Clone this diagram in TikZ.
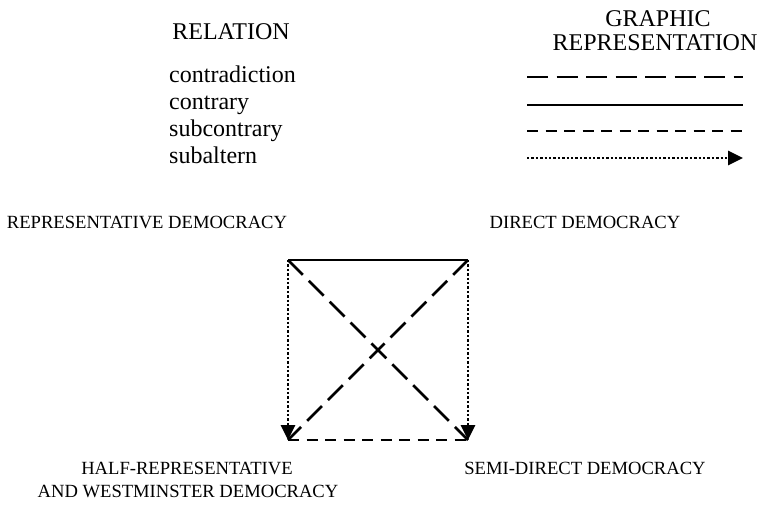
\documentclass[tikz,border=0pt]{standalone}
\usepackage{fontspec}
\setmainfont{Liberation Serif}
\usetikzlibrary{arrows.meta}
\begin{document}
\begin{tikzpicture}[x=1pt,y=-1pt,
  big/.style={font=\fontsize{24}{26}\selectfont, inner sep=0pt, anchor=base},
  lab/.style={font=\fontsize{18.6}{23}\selectfont, inner sep=0pt, anchor=base, align=center},
  item/.style={font=\fontsize{24}{26}\selectfont, inner sep=0pt, anchor=base west},
  contradict/.style={line width=2.7pt, dash pattern=on 21pt off 8.5pt},
  contrarystyle/.style={line width=2.8pt},
  subcontr/.style={line width=2.7pt, dash pattern=on 11pt off 7.5pt},
  subalt/.style={line width=2.8pt, dash pattern=on 2.4pt off 2pt, -{Triangle[length=15pt,width=14pt]}}
]
\useasboundingbox (0,0) rectangle (763,510);
% legend headings
\node[big] (rel) at (231,40) {RELATION};
\node[big] (gr1) at (658,27) {GRAPHIC};
\node[big] (gr2) at (655,51) {REPRESENTATION};
% legend items
\node[item] (i1) at (169,83) {contradiction};
\node[item] (i2) at (169,110) {contrary};
\node[item] (i3) at (169,137) {subcontrary};
\node[item] (i4) at (169,164) {subaltern};
% legend lines
\coordinate (a1) at (527,77);  \coordinate (b1) at (743,77);
\coordinate (a2) at (527,105); \coordinate (b2) at (743,105);
\coordinate (a3) at (527,131); \coordinate (b3) at (743,131);
\coordinate (a4) at (527,158); \coordinate (b4) at (743,158);
\draw[contradict] (a1) -- (b1);
\draw[contrarystyle] (a2) -- (b2);
\draw[subcontr] (a3) -- (b3);
\draw[subalt] (a4) -- (b4);
% labels
\node[lab] (rdl) at (147,229) {REPRESENTATIVE DEMOCRACY};
\node[lab] (ddl) at (585,229) {DIRECT DEMOCRACY};
\node[lab] (hrl) at (187,474) {HALF-REPRESENTATIVE};
\node[lab] (hrl2) at (188,497) {AND WESTMINSTER DEMOCRACY};
\node[lab] (sdl) at (585,474) {SEMI-DIRECT DEMOCRACY};
% square
\coordinate (RD) at (288,260);
\coordinate (DD) at (468,260);
\coordinate (HR) at (288,440);
\coordinate (SD) at (468,440);
\draw[contradict] (RD) -- (SD);
\draw[contradict] (DD) -- (HR);
\draw[contrarystyle] (RD) -- (DD);
\draw[subcontr] (HR) -- (SD);
\draw[subalt] (RD) -- (HR);
\draw[subalt] (DD) -- (SD);
\end{tikzpicture}
\end{document}
